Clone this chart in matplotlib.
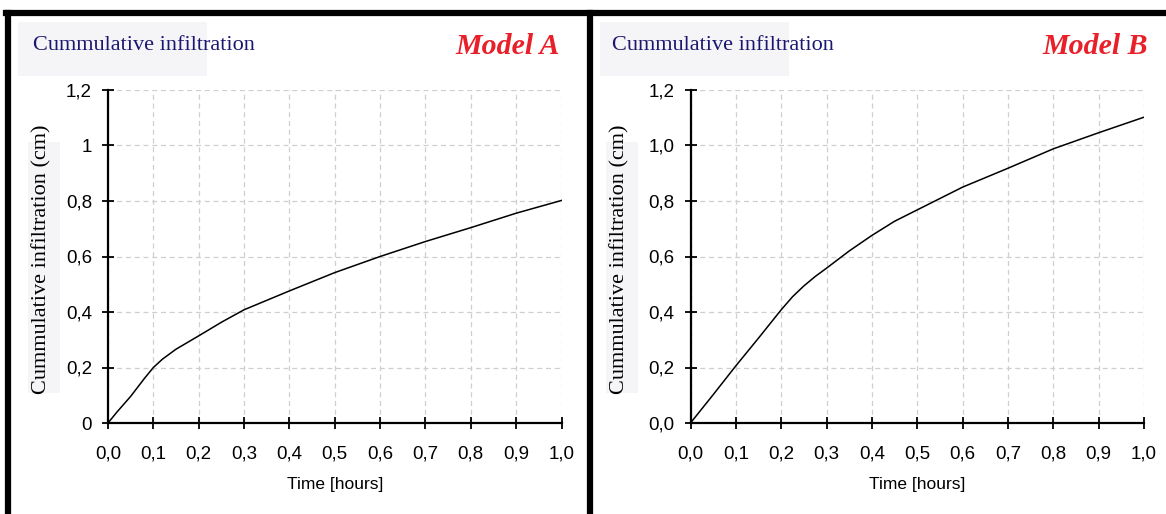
import matplotlib
matplotlib.use("Agg")
import matplotlib.pyplot as plt
from matplotlib.patches import Rectangle
from matplotlib.lines import Line2D

# time [hours]
t_a = [0.0, 0.02, 0.05, 0.08, 0.1, 0.12, 0.15, 0.2, 0.25, 0.3, 0.4, 0.5, 0.6, 0.7, 0.8, 0.9, 1.0]
inf_a = [0.0, 0.04, 0.096, 0.16, 0.2, 0.23, 0.266, 0.314, 0.363, 0.408, 0.476, 0.542, 0.600, 0.654, 0.704, 0.756, 0.802]

t_b = [0.0, 0.05, 0.1, 0.15, 0.2, 0.225, 0.25, 0.275, 0.3, 0.35, 0.4, 0.45, 0.5, 0.6, 0.7, 0.8, 0.9, 1.0]
inf_b = [0.0, 0.102, 0.206, 0.306, 0.408, 0.455, 0.494, 0.528, 0.558, 0.620, 0.676, 0.727, 0.768, 0.850, 0.918, 0.988, 1.046, 1.102]

xticks = [0.0, 0.1, 0.2, 0.3, 0.4, 0.5, 0.6, 0.7, 0.8, 0.9, 1.0]
xlabels = ['0,0', '0,1', '0,2', '0,3', '0,4', '0,5', '0,6', '0,7', '0,8', '0,9', '1,0']
yticks = [0.0, 0.2, 0.4, 0.6, 0.8, 1.0, 1.2]
ylabels_a = ['0', '0,2', '0,4', '0,6', '0,8', '1', '1,2']
ylabels_b = ['0,0', '0,2', '0,4', '0,6', '0,8', '1,0', '1,2']

W, H = 1166, 514
fig = plt.figure(figsize=(W / 100, H / 100), dpi=100)
fig.patch.set_facecolor('white')

sans = 'Liberation Sans'
serif = 'Liberation Serif'
boxcol = '#f5f5f7'


def fbox(x0, y0, x1, y1):
    fig.patches.append(Rectangle((x0 / W, 1 - y1 / H), (x1 - x0) / W, (y1 - y0) / H,
                                 transform=fig.transFigure, facecolor=boxcol,
                                 edgecolor='none', zorder=0))


def panel(left, t, y, ylab, model, box_x0, title_x, model_x, ylab_x):
    ax = fig.add_axes([left / W, 1 - 423 / H, 453.5 / W, 333 / H])
    ax.plot(t, y, color='black', lw=1.1)
    ax.set_xlim(0, 1.0)
    ax.set_ylim(0, 1.2)
    ax.set_xticks(xticks)
    ax.set_xticklabels(xlabels, fontfamily=sans, fontsize=13.5)
    ax.set_yticks(yticks)
    ax.set_yticklabels(ylab, fontfamily=sans, fontsize=13.5)
    ax.tick_params(direction='inout', length=9, width=1.3)
    ax.tick_params(axis='x', pad=11.5)
    ax.tick_params(axis='y', pad=7)
    ax.grid(True, ls=(0, (4, 3)), color='#cfcfcf', lw=0.9)
    for s in ['top', 'right']:
        ax.spines[s].set_visible(False)
    for s in ['left', 'bottom']:
        ax.spines[s].set_linewidth(1.6)
    ax.set_xlabel('Time [hours]', fontfamily=sans, fontsize=12.5, labelpad=11)
    # y label with its light box
    fbox(ylab_x - 14, 142, ylab_x + 18, 393)
    fig.text(ylab_x / W, 1 - 259 / H, 'Cummulative infiltration (cm)', fontfamily=serif,
             fontsize=16, rotation=90, ha='center', va='center', color='black')
    # light title box
    fbox(box_x0, 22, box_x0 + 189, 76)
    fig.text(title_x / W, 1 - 46 / H, 'Cummulative infiltration', fontfamily=serif,
             fontsize=16, color='#1c1670', va='center', ha='left')
    fig.text(model_x / W, 1 - 46 / H, model, fontfamily=serif, fontsize=21.5,
             color='#e8202a', fontweight='bold', fontstyle='italic', va='center', ha='right')
    return ax


panel(108, t_a, inf_a, ylabels_a, 'Model A', 18, 33, 560, 42)
panel(690.5, t_b, inf_b, ylabels_b, 'Model B', 600, 612, 1148, 620)

# frame lines
lw = 4.5
fig.lines.append(Line2D([6 / W, 1], [1 - 13 / H, 1 - 13 / H], transform=fig.transFigure,
                        color='black', lw=lw))
fig.lines.append(Line2D([8 / W, 8 / W], [0, 1 - 13 / H], transform=fig.transFigure,
                        color='black', lw=lw))
fig.lines.append(Line2D([589.5 / W, 589.5 / W], [0, 1 - 13 / H], transform=fig.transFigure,
                        color='black', lw=lw))

fig.savefig('out.png', dpi=100)
